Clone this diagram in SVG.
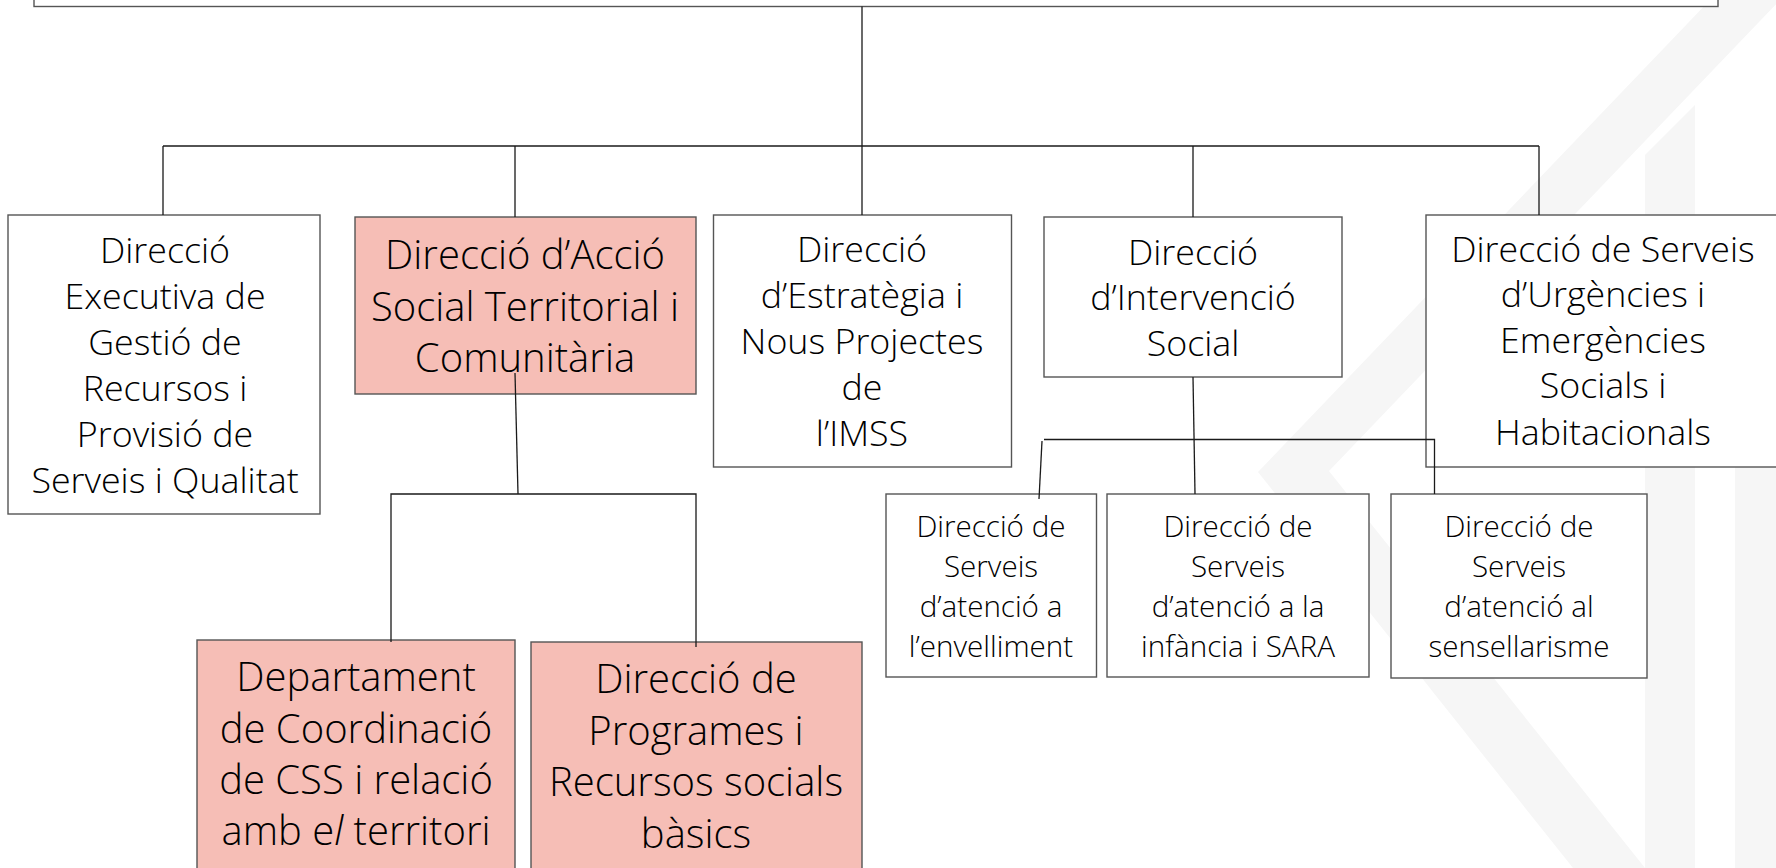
<svg xmlns="http://www.w3.org/2000/svg" width="1776" height="868" viewBox="0 0 1776 868">
<style>
.wm{fill:#f6f6f6}
.box{fill:#ffffff;stroke:#555555;stroke-width:1.4}
.pink{fill:#f6beb6;stroke:#555555;stroke-width:1.4}
.t{font-family:"Open Sans","Segoe UI",sans-serif;font-weight:350;fill:#000;text-anchor:middle}
.l1{font-size:35.8px}
.l2{font-size:40px}
.l3{font-size:29.6px}
.c{fill:none;stroke:#1a1a1a;stroke-width:1.3}
</style>
<rect x="0" y="0" width="1776" height="868" fill="#ffffff"/>
<g id="watermark">
<polygon class="wm" points="1710,0 1780,0 1329,471 1645,868 1573,868 1258,472"/>
<polygon class="wm" points="1645,155 1695,105 1695,868 1645,868"/>
<polygon class="wm" points="1735,310 1776,270 1776,868 1735,868"/>
</g>
<g id="top">
<rect class="box" x="34" y="-20" width="1684" height="26.5"/>
</g>
<g id="n1">
<rect class="box" x="8" y="215" width="312" height="299"/>
<text class="t l1"><tspan x="165" y="263">Direcció</tspan><tspan x="165" y="309">Executiva de</tspan><tspan x="165" y="355">Gestió de</tspan><tspan x="165" y="401">Recursos i</tspan><tspan x="165" y="447">Provisió de</tspan><tspan x="165" y="493">Serveis i Qualitat</tspan></text>
</g>
<g id="n2">
<rect class="pink" x="355" y="217" width="341" height="177"/>
<text class="t l2"><tspan x="525" y="269">Direcció d’Acció</tspan><tspan x="525" y="321">Social Territorial i</tspan><tspan x="525" y="372">Comunitària</tspan></text>
</g>
<g id="n3">
<rect class="box" x="713.5" y="215" width="298" height="252"/>
<text class="t l1"><tspan x="862" y="262">Direcció</tspan><tspan x="862" y="308">d’Estratègia i</tspan><tspan x="862" y="354">Nous Projectes</tspan><tspan x="862" y="400">de</tspan><tspan x="862" y="446">l’IMSS</tspan></text>
</g>
<g id="n4">
<rect class="box" x="1044" y="217" width="298" height="160"/>
<text class="t l1"><tspan x="1193" y="265">Direcció</tspan><tspan x="1193" y="310">d’Intervenció</tspan><tspan x="1193" y="356">Social</tspan></text>
</g>
<g id="n5">
<rect class="box" x="1426" y="215" width="360" height="252"/>
<text class="t l1"><tspan x="1603" y="262">Direcció de Serveis</tspan><tspan x="1603" y="307">d’Urgències i</tspan><tspan x="1603" y="353">Emergències</tspan><tspan x="1603" y="398">Socials i</tspan><tspan x="1603" y="445">Habitacionals</tspan></text>
</g>
<g id="n6">
<rect class="pink" x="197" y="640" width="318" height="240"/>
<text class="t l2"><tspan x="356" y="691">Departament</tspan><tspan x="356" y="743">de Coordinació</tspan><tspan x="356" y="794">de CSS i relació</tspan><tspan x="356" y="845">amb e<tspan font-style="italic">l</tspan> territori</tspan></text>
</g>
<g id="n7">
<rect class="pink" x="531" y="642" width="331" height="240"/>
<text class="t l2"><tspan x="696" y="693">Direcció de</tspan><tspan x="696" y="745">Programes i</tspan><tspan x="696" y="796">Recursos socials</tspan><tspan x="696" y="848">bàsics</tspan></text>
</g>
<g id="n8">
<rect class="box" x="886" y="494" width="210.5" height="183"/>
<text class="t l3"><tspan x="991" y="537">Direcció de</tspan><tspan x="991" y="577">Serveis</tspan><tspan x="991" y="617">d’atenció a</tspan><tspan x="991" y="657">l’envelliment</tspan></text>
</g>
<g id="n9">
<rect class="box" x="1107" y="494" width="262" height="183"/>
<text class="t l3"><tspan x="1238" y="537">Direcció de</tspan><tspan x="1238" y="577">Serveis</tspan><tspan x="1238" y="617">d’atenció a la</tspan><tspan x="1238" y="657">infància i SARA</tspan></text>
</g>
<g id="n10">
<rect class="box" x="1391" y="494" width="256" height="184"/>
<text class="t l3"><tspan x="1519" y="537">Direcció de</tspan><tspan x="1519" y="577">Serveis</tspan><tspan x="1519" y="617">d’atenció al</tspan><tspan x="1519" y="657">sensellarisme</tspan></text>
</g>
<g id="connectors">
<path class="c" d="M862,6.5 V215"/>
<path class="c" d="M163,146 H1539"/>
<path class="c" d="M163,146 V215 M515,146 V217 M1193,146 V217 M1539,146 V215"/>
<path class="c" d="M515,373 L518,494"/>
<path class="c" d="M391,642 V494 H696 V647"/>
<path class="c" d="M1193,377 L1195,494"/>
<path class="c" d="M1044,439.5 H1434.5 V494"/>
<path class="c" d="M1042,441 L1039,499"/>
</g>
</svg>
